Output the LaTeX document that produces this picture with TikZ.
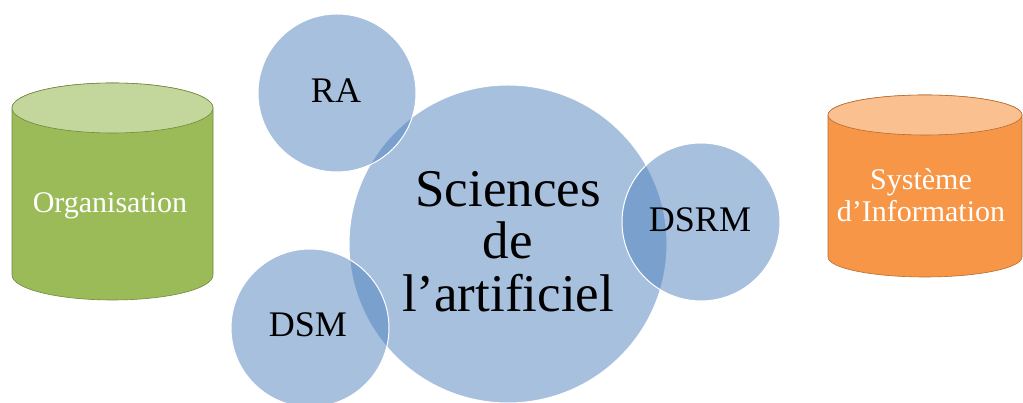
\documentclass[tikz,border=0pt]{standalone}
\usepackage{fontspec}
\setmainfont{Liberation Serif}
\usepackage{tikz}
\usetikzlibrary{positioning}
\definecolor{ink}{HTML}{000000}
\definecolor{bubble}{HTML}{4F81BD}
\definecolor{leaf}{HTML}{9BBB59}
\definecolor{leaftop}{HTML}{C3D69B}
\definecolor{leafedge}{HTML}{71893F}
\definecolor{sun}{HTML}{F79646}
\definecolor{suntop}{HTML}{FAC090}
\definecolor{sunedge}{HTML}{B66D31}

\begin{document}
\begin{tikzpicture}[x=1pt,y=1pt,
 disc/.style={circle,inner sep=0pt,fill=bubble,fill opacity=0.5,draw=white,line width=1pt},
 small/.style={text=ink,font=\fontsize{36}{36}\selectfont,inner sep=0pt,anchor=base},
 tag/.style={text=white,font=\fontsize{30}{32}\selectfont,inner sep=0pt,align=center}]
\useasboundingbox (0,0) rectangle (1023,403);
% 1: the two stores
\begin{scope}
 \filldraw[fill=leaf,draw=leafedge,line width=0.6pt] (12,295) -- (12,128) arc[start angle=180,end angle=360,x radius=100.5,y radius=25] -- (213,295) arc[start angle=0,end angle=180,x radius=100.5,y radius=25] -- cycle;
 \filldraw[fill=leaftop,draw=leafedge,line width=0.6pt] (112.5,295) ellipse[x radius=100.5,y radius=25];
 \node[tag,anchor=base] (org) at (110,190) {Organisation};
\end{scope}
\begin{scope}
 \filldraw[fill=sun,draw=sunedge,line width=0.6pt] (828,288) -- (828,146) arc[start angle=180,end angle=360,x radius=97,y radius=20] -- (1022,288) arc[start angle=0,end angle=180,x radius=97,y radius=20] -- cycle;
 \filldraw[fill=suntop,draw=sunedge,line width=0.6pt] (925,288) ellipse[x radius=97,y radius=20];
 \node[tag,anchor=south] (si) at (921,181) {Système\\d’Information};
\end{scope}
% 2: the bubbles
\node[disc,minimum size=318pt] (sci) at (508,159) {};
\node[disc,minimum size=158pt] (ra) at (337,310) {};
\node[disc,minimum size=158pt] (dsm) at (310,75) {};
\node[disc,minimum size=158pt] (dsrm) at (701,181) {};
% 3: the words
\node[text=ink,font=\fontsize{53}{52.5}\selectfont,inner sep=0pt,align=center,anchor=south] (scitxt) at (508,91) {Sciences\\de\\l’artificiel};
\node[small] (ratxt) at (336,300) {RA};
\node[small] (dsmtxt) at (308,66) {DSM};
\node[small] (dsrmtxt) at (700,171) {DSRM};
\end{tikzpicture}
\end{document}
